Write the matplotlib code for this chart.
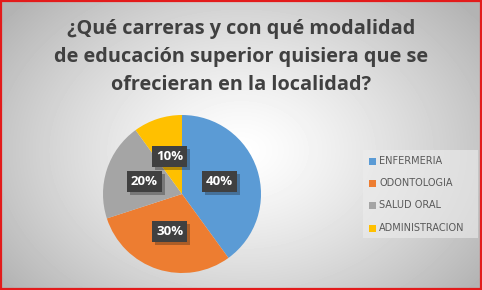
import numpy as np
import matplotlib.pyplot as plt
import matplotlib.patheffects as pe
from matplotlib.patches import Rectangle

# data
categories = ['ENFERMERIA', 'ODONTOLOGIA', 'SALUD ORAL', 'ADMINISTRACION']
shares = [40, 30, 20, 10]
colors = ['#5b9bd5', '#ed7d31', '#a5a5a5', '#ffc000']
title = '¿Qué carreras y con qué modalidad\nde educación superior quisiera que se\nofrecieran en la localidad?'

W, H = 482, 290
fig = plt.figure(figsize=(W / 100, H / 100), dpi=100)

# radial gradient background
bg = fig.add_axes([0, 0, 1, 1])
yy, xx = np.mgrid[0:H, 0:W]
d = np.sqrt(((xx - 241) / 300.0) ** 2 + ((yy - 150) / 220.0) ** 2)
shade = np.clip(1.0 - 0.30 * d ** 1.3, 0.70, 1.0)
bg.imshow(shade, cmap='gray', vmin=0, vmax=1, extent=[0, W, H, 0], aspect='auto')
bg.set_xlim(0, W)
bg.set_ylim(H, 0)
bg.axis('off')
bg.add_patch(Rectangle((1, 1), W - 2.5, H - 2.5, fill=False, edgecolor='#e31b1b', lw=1.6))

# legend panel
bg.add_patch(Rectangle((363, 150), 115, 88, facecolor='#ededed', edgecolor='none', alpha=0.6))

fig.text(0.5, 1 - 57 / H, title, ha='center', va='center', fontsize=14.3, color='#404040',
         fontweight='bold', family='Open Sans', linespacing=1.55)

# pie
cx, cy, r = 182, 194, 79
ax = fig.add_axes([(cx - r) / W, 1 - (cy + r) / H, 2 * r / W, 2 * r / H])
wedges, _ = ax.pie(shares, colors=colors, startangle=90, counterclock=False,
                   wedgeprops=dict(linewidth=0))
ax.set_xlim(-1, 1)
ax.set_ylim(-1, 1)
ax.set_aspect('auto')

for w, s in zip(wedges, shares):
    ang = np.deg2rad((w.theta1 + w.theta2) / 2)
    x, y = 0.5 * np.cos(ang), 0.5 * np.sin(ang)
    t = ax.text(x, y, f'{s}%', ha='center', va='center', fontsize=9.5, color='white',
                fontweight='bold', family='Open Sans',
                bbox=dict(boxstyle='square,pad=0.3', facecolor='#404040', edgecolor='none'))
    t.get_bbox_patch().set_path_effects([pe.SimplePatchShadow(offset=(2, -2), alpha=0.3),
                                         pe.Normal()])

# legend
ys = [161, 183, 205, 228]
for lab, col, y in zip(categories, colors, ys):
    bg.add_patch(Rectangle((369, y - 3.5), 7, 7, facecolor=col, edgecolor='none'))
    bg.text(379, y, lab, ha='left', va='center', fontsize=7, color='#595959')

fig.savefig('out.png', dpi=100)
